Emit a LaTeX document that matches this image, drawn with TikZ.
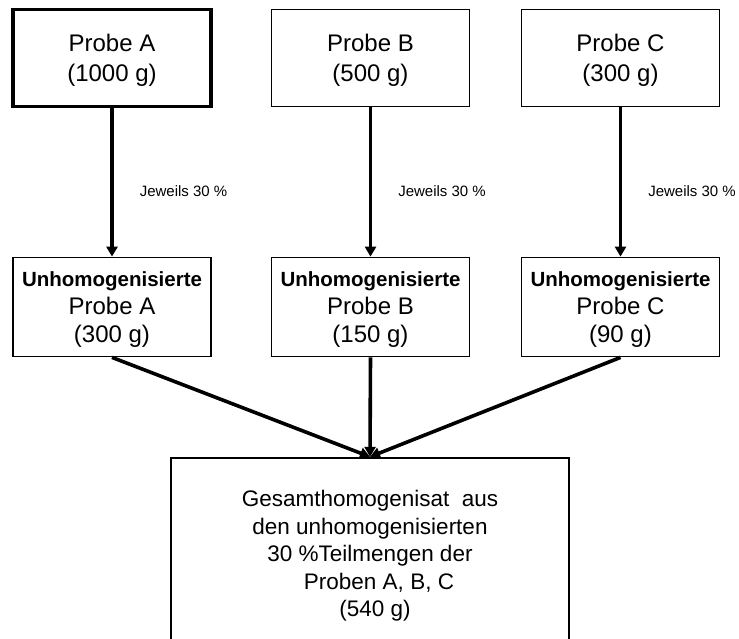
\documentclass[tikz,border=0pt]{standalone}
\usepackage{fontspec}
\setmainfont{Liberation Sans}
\usetikzlibrary{arrows.meta}
\tikzset{
	>={Triangle[length=10pt,width=11pt]},
	probe/.style = {
			draw,
			line width      = 1.8pt,
			minimum width   = 198pt,
			minimum height  = 97pt,
			inner sep       = 2pt,
			align           = center,
			text depth      = -5pt,
			font            = \fontsize{24}{30}\selectfont,
		},
	teil/.style = {
			probe,
			minimum height  = 99pt,
			text depth      = -1pt,
			font            = \fontsize{24}{28}\selectfont,
		},
	gesamt/.style = {
			draw,
			line width      = 2.4pt,
			minimum width   = 398pt,
			minimum height  = 196pt,
			align           = center,
			font            = \fontsize{22.5}{27.5}\selectfont,
		},
	flow/.style = {->, line width=3.6pt},
	anteil/.style = {font=\fontsize{15}{17}\selectfont, anchor=west, inner sep=0pt},
}
\newcommand{\unhom}{{\bfseries\fontsize{20.5}{28}\selectfont Unhomogenisierte}}

\begin{document}
\begin{tikzpicture}[x=1pt,y=-1pt]
        \useasboundingbox (0,0) rectangle (739,638);
        % Ausgangsproben
        \node[probe, line width=3.2pt] at (112,58) (pa) {Probe A\\(1000 g)};
        \node[probe] at (370.5,58) (pb) {Probe B\\(500 g)};
        \node[probe] at (620.5,58) (pc) {Probe C\\(300 g)};
        % Teilmengen
        \node[teil] at (112,307) (ua) {\unhom\\Probe A\\(300 g)};
        \node[teil] at (370.5,307) (ub) {\unhom\\Probe B\\(150 g)};
        \node[teil] at (620.5,307) (uc) {\unhom\\Probe C\\(90 g)};
        % Gesamthomogenisat
        \node[gesamt] at (370,556) (g) {Gesamthomogenisat\ \ aus\\den unhomogenisierten\\30 \%Teilmengen der\\\hspace*{18pt}Proben A, B, C\\\hspace*{10pt}(540 g)};
        \draw[flow] (pa) -- node[anteil, pos=0.56, xshift=26pt] {Jeweils 30 \%} (ua);
        \draw[flow] (pb) -- node[anteil, pos=0.56, xshift=26pt] {Jeweils 30 \%} (ub);
        \draw[flow] (pc) -- node[anteil, pos=0.56, xshift=26pt] {Jeweils 30 \%} (uc);
        \draw[flow] (ua.south) -- (g.north);
        \draw[flow] (ub.south) -- (g.north);
        \draw[flow] (uc.south) -- (g.north);
      \end{tikzpicture}
\end{document}
